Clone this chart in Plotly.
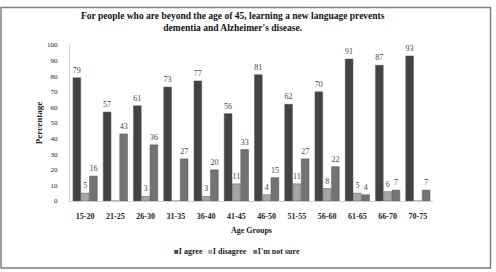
import plotly.graph_objects as go

categories = ["15-20", "21-25", "26-30", "31-35", "36-40", "41-45",
              "46-50", "51-55", "56-60", "61-65", "66-70", "70-75"]
agree = [79, 57, 61, 73, 77, 56, 81, 62, 70, 91, 87, 93]
disagree = [5, 0, 3, 0, 3, 11, 4, 11, 8, 5, 6, 0]
not_sure = [16, 43, 36, 27, 20, 33, 15, 27, 22, 4, 7, 7]
y_ticks = list(range(0, 101, 10))

FONT = "Liberation Serif"
series = [("I agree", agree, "#434343"),
          ("I disagree", disagree, "#a6a6a6"),
          ("I'm not sure", not_sure, "#737373")]

def lbl(vals):
    return [str(v) if v else "" for v in vals]

fig = go.Figure()
for name, vals, col in series:
    fig.add_trace(go.Bar(
        x=categories, y=vals, name=name,
        marker=dict(color=col, line=dict(color="#5a5a5a", width=0.5)),
        text=lbl(vals), textposition="outside", cliponaxis=False,
        constraintext="none",
        textfont=dict(family=FONT, size=8, color="#444444"),
    ))

W, H = 496, 272
ml, mr, mt, mb = 70, 63, 45, 71
pw, ph = W - ml - mr, H - mt - mb

def px(x):
    return (x - ml) / pw

def py(y):
    return (H - mb - y) / ph

fig.add_shape(type="rect", xref="paper", yref="paper",
              x0=px(1), x1=px(490.5), y0=py(268), y1=py(7.5),
              line=dict(color="#7f7f7f", width=1.5), layer="below")

fig.add_annotation(
    text="<b>For people who are beyond the age of 45, learning a new language prevents<br>dementia and Alzheimer's disease.</b>",
    xref="paper", yref="paper", x=px(232.5), y=py(22), xanchor="center", yanchor="middle",
    showarrow=False, font=dict(family=FONT, size=9.5, color="#111111"))

legend_x = [172, 206, 251]
for (name, _, col), lx in zip(series, legend_x):
    fig.add_annotation(
        text=f"<span style='color:{col}'>■</span><b>{name}</b>",
        xref="paper", yref="paper", x=px(lx), y=py(251),
        xanchor="left", yanchor="middle", showarrow=False,
        font=dict(family=FONT, size=8, color="#222222"))

fig.update_layout(
    width=W, height=H,
    margin=dict(l=ml, r=mr, t=mt, b=mb),
    paper_bgcolor="white", plot_bgcolor="white",
    barmode="group", bargap=0.18, bargroupgap=0.06,
    font=dict(family=FONT, color="#222222"),
    showlegend=False,
    xaxis=dict(
        title=dict(text="<b>Age Groups</b>", font=dict(family=FONT, size=8), standoff=7),
        tickfont=dict(family=FONT, size=8), tickprefix="<b>", ticksuffix="</b>",
        ticklabelstandoff=7,
        showline=True, linecolor="#d0d0d0", linewidth=1, ticks="", showgrid=False),
    yaxis=dict(
        title=dict(text="<b>Percentage</b>", font=dict(family=FONT, size=9), standoff=2),
        range=[0, 100], tickvals=y_ticks, tickfont=dict(family=FONT, size=7),
        tickprefix="<b>", ticksuffix="</b>", ticklabelstandoff=10,
        showline=True, linecolor="#d0d0d0", linewidth=1, ticks="", showgrid=False,
        zeroline=False),
)

fig.write_html("out.html")
